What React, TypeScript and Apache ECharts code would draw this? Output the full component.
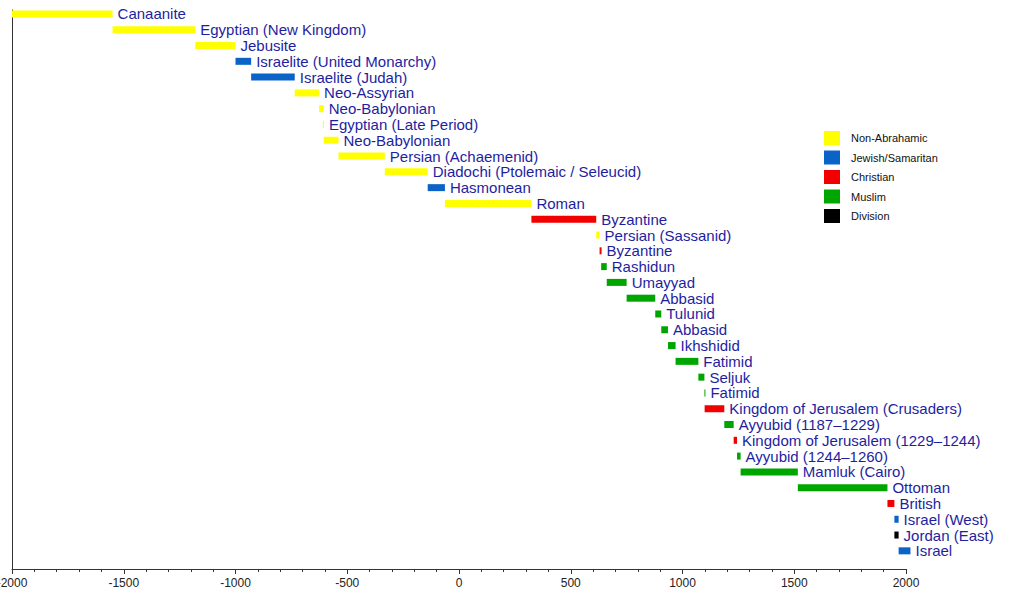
import { useEffect, useRef } from "react";
import * as echarts from "echarts";

const names = [
  "Canaanite",
  "Egyptian (New Kingdom)",
  "Jebusite",
  "Israelite (United Monarchy)",
  "Israelite (Judah)",
  "Neo-Assyrian",
  "Neo-Babylonian",
  "Egyptian (Late Period)",
  "Neo-Babylonian",
  "Persian (Achaemenid)",
  "Diadochi (Ptolemaic / Seleucid)",
  "Hasmonean",
  "Roman",
  "Byzantine",
  "Persian (Sassanid)",
  "Byzantine",
  "Rashidun",
  "Umayyad",
  "Abbasid",
  "Tulunid",
  "Abbasid",
  "Ikhshidid",
  "Fatimid",
  "Seljuk",
  "Fatimid",
  "Kingdom of Jerusalem (Crusaders)",
  "Ayyubid (1187–1229)",
  "Kingdom of Jerusalem (1229–1244)",
  "Ayyubid (1244–1260)",
  "Mamluk (Cairo)",
  "Ottoman",
  "British",
  "Israel (West)",
  "Jordan (East)",
  "Israel",
];

const starts = [
  -2000, -1550, -1180, -1000, -930, -735, -626, -609, -605, -539, -332, -140, -63,
  324, 614, 629, 636, 661, 750, 878, 905, 935, 969, 1071, 1098, 1099, 1187, 1229,
  1244, 1260, 1516, 1917, 1948, 1948, 1967,
];

const ends = [
  -1550, -1180, -1000, -930, -735, -626, -605, -605, -539, -332, -140, -63, 324,
  614, 629, 638, 661, 750, 878, 905, 935, 969, 1071, 1098, 1099, 1187, 1229, 1244,
  1260, 1516, 1917, 1948, 1967, 1967, 2020,
];

// 0 Non-Abrahamic, 1 Jewish/Samaritan, 2 Christian, 3 Muslim, 4 Division
const kinds = [
  0, 0, 0, 1, 1, 0, 0, 0, 0, 0, 0, 1, 0, 2, 0, 2, 3, 3, 3, 3, 3, 3, 3, 3, 3, 2, 3,
  2, 3, 3, 3, 2, 1, 4, 1,
];

const kindNames = ["Non-Abrahamic", "Jewish/Samaritan", "Christian", "Muslim", "Division"];
const kindColors = ["#ffff00", "#0b63c8", "#f20000", "#00a600", "#000000"];

const xMin = -2000;
const xMax = 2000;
const xInterval = 500;

const FONT = "'Liberation Sans', Arial, Helvetica, sans-serif";

export default function App() {
  const ref = useRef<HTMLDivElement>(null);

  useEffect(() => {
    document.body.style.margin = "0";
    const chart = echarts.init(ref.current!, null, { renderer: "svg" });

    const series = kindNames.map((kn, k) => ({
      type: "custom",
      name: kn,
      clip: false,
      itemStyle: { color: kindColors[k] },
      data: names
        .map((_, i) => i)
        .filter((i) => kinds[i] === k)
        .map((i) => ({ value: [starts[i], ends[i], i] })),
      renderItem: (params: any, api: any) => {
        const s = api.value(0);
        const e = api.value(1);
        const r = api.value(2);
        const p0 = api.coord([s, r]);
        const p1 = api.coord([e, r]);
        const h = 7;
        const w = Math.max(1, p1[0] - p0[0]);
        return {
          type: "group",
          children: [
            {
              type: "rect",
              shape: { x: p0[0], y: p0[1] - h / 2, width: w, height: h },
              style: { fill: kindColors[k] },
            },
            {
              type: "text",
              x: p0[0] + w + 5,
              y: p0[1],
              style: {
                text: names[r],
                fill: "#1e1ea0",
                fontSize: 15,
                fontFamily: FONT,
                align: "left",
                verticalAlign: "middle",
              },
            },
          ],
        };
      },
    }));

    chart.setOption({
      animation: false,
      grid: {
        left: 12,
        right: 118,
        top: 10,
        bottom: 34,
        containLabel: false,
        outerBoundsMode: "none",
      },
      xAxis: {
        type: "value",
        position: "bottom",
        min: xMin,
        max: xMax,
        interval: xInterval,
        axisLine: { show: true, onZero: false, lineStyle: { color: "#333", width: 1 } },
        axisTick: { show: true, length: 5, lineStyle: { color: "#333" } },
        minorTick: { show: true, splitNumber: 5, length: 3, lineStyle: { color: "#333" } },
        splitLine: { show: false },
        minorSplitLine: { show: false },
        axisLabel: {
          fontSize: 12,
          color: "#222",
          fontFamily: FONT,
          margin: 8,
          formatter: (v: number) => String(v),
        },
      },
      yAxis: {
        type: "value",
        position: "left",
        inverse: true,
        min: -0.25,
        max: 35.15,
        axisLine: { show: true, onZero: false, lineStyle: { color: "#333", width: 1 } },
        axisTick: { show: false },
        axisLabel: { show: false },
        splitLine: { show: false },
      },
      legend: {
        orient: "vertical",
        left: 824,
        top: 131,
        padding: 0,
        itemWidth: 16,
        itemHeight: 14,
        itemGap: 5.5,
        icon: "rect",
        data: kindNames,
        textStyle: { fontSize: 11, color: "#111", fontFamily: FONT, padding: [0, 0, 0, 6] },
      },
      series,
    });

    return () => chart.dispose();
  }, []);

  return <div ref={ref} style={{ width: 1024, height: 603 }} />;
}
